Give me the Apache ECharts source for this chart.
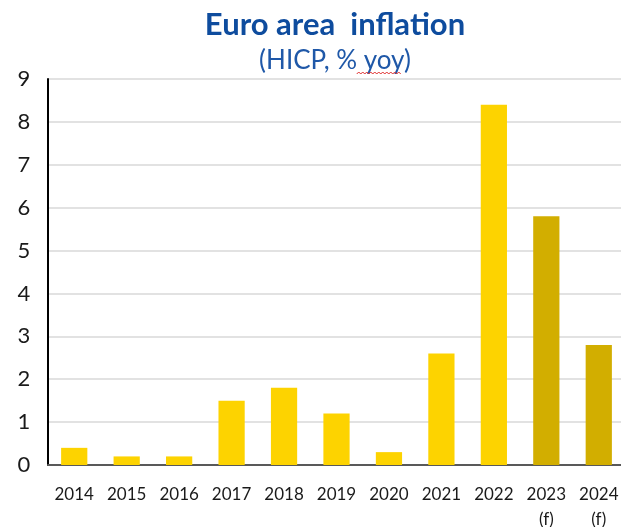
<!DOCTYPE html>
<html>
<head>
<meta charset="utf-8">
<script src="https://cdn.jsdelivr.net/npm/echarts@6/dist/echarts.min.js"></script>
<style>html,body{margin:0;padding:0;background:#fff}#c{width:621px;height:527px}</style>
</head>
<body>
<div id="c"></div>
<script>
const categories = ['2014','2015','2016','2017','2018','2019','2020','2021','2022','2023\n(f)','2024\n(f)'];
const inflation = [0.4, 0.2, 0.2, 1.5, 1.8, 1.2, 0.3, 2.6, 8.4, 5.8, 2.8];
const isForecast = [false,false,false,false,false,false,false,false,false,true,true];
const yTicks = [0,1,2,3,4,5,6,7,8,9];
const titleText = 'Euro area  inflation';
const subPrefix = '(HICP, % ';
const subWord = 'yoy';
const subSuffix = ')';

const chart = echarts.init(document.getElementById('c'), null, {renderer:'canvas'});
const FONT = 'Lato, "Open Sans", sans-serif';
const SUB_SIZE = 26;
const CENTER_X = 330;

// spell-check style wavy underline under "yoy", placed by measuring the text
const mctx = document.createElement('canvas').getContext('2d');
mctx.font = SUB_SIZE + 'px ' + FONT;
const fullW = mctx.measureText(subPrefix + subWord + subSuffix).width;
const preW = mctx.measureText(subPrefix).width;
const wordW = mctx.measureText(subWord).width;
const x0 = CENTER_X - fullW / 2 + preW - 2;
const x1 = x0 + wordW + 4;
const wavy = [];
for (let x = x0, k = 0; x <= x1; x += 2, k++) wavy.push([x, k % 2 ? 72 : 74]);

chart.setOption({
  animation: false,
  backgroundColor: '#fff',
  title: [
    {text: titleText, left: CENTER_X, top: 4, textAlign: 'center',
     textStyle: {color: '#0E4C9E', fontSize: 31, fontWeight: 'bold', fontFamily: FONT}},
    {text: subPrefix + subWord + subSuffix, left: CENTER_X, top: 43, textAlign: 'center',
     textStyle: {color: '#1F58A8', fontSize: SUB_SIZE, fontWeight: 'normal', fontFamily: FONT}}
  ],
  graphic: [{type: 'polyline', shape: {points: wavy}, style: {stroke: '#E03030', lineWidth: 1, fill: null}, z: 100}],
  grid: {left: 48, right: -4, top: 79, bottom: 62, containLabel: false, outerBoundsMode: 'none'},
  xAxis: {
    type: 'category', data: categories,
    axisLine: {show: true, lineStyle: {color: '#595959', width: 2}},
    axisTick: {show: false},
    axisLabel: {color: '#1a1a1a', fontSize: 17, fontFamily: FONT, margin: 17, lineHeight: 25, interval: 0}
  },
  yAxis: {
    type: 'value', min: yTicks[0], max: yTicks[yTicks.length-1], interval: 1,
    axisLine: {show: true, lineStyle: {color: '#000', width: 2}},
    axisTick: {show: false},
    splitLine: {lineStyle: {color: '#D9D9D9', width: 1.5}},
    axisLabel: {color: '#1a1a1a', fontSize: 22, fontFamily: FONT, margin: 24, align: 'center'}
  },
  series: [{
    type: 'bar', barWidth: '50%',
    data: inflation.map((v, i) => ({value: v, itemStyle: {color: isForecast[i] ? '#D2AE00' : '#FDD300'}}))
  }]
});
</script>
</body>
</html>
